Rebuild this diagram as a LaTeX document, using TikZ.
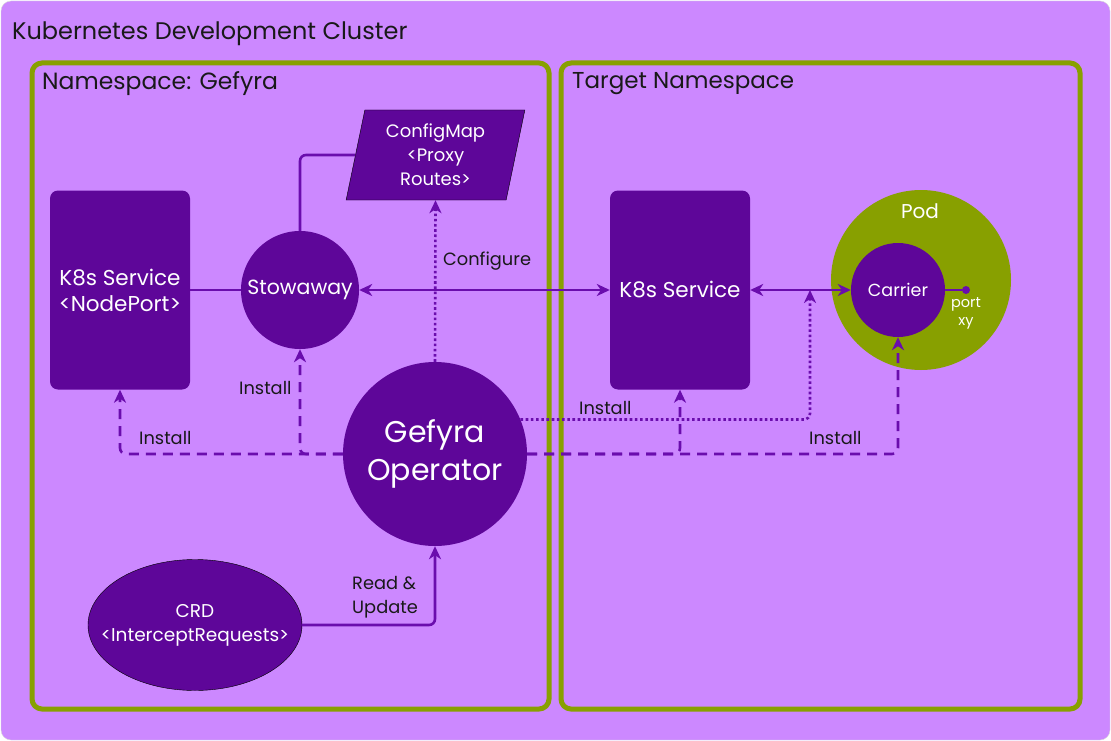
\documentclass[tikz,border=0pt]{standalone}
\usepackage{fontspec}
\setmainfont{Poppins}
\usetikzlibrary{shapes.geometric,arrows.meta}
\definecolor{clusterBg}{HTML}{CC88FF}
\definecolor{deepPurple}{HTML}{5E0699}
\definecolor{wirePurple}{HTML}{6A0DAD}
\definecolor{podGreen}{HTML}{88A000}
\tikzset{
  unit/.style={fill=deepPurple,text=white,align=center,inner sep=0pt},
  svcbox/.style={unit,rounded corners=8pt,minimum width=140pt,minimum height=199pt,font=\fontsize{21.5}{26}\selectfont},
  ball/.style={unit,circle},
  wire/.style={draw=wirePurple,line width=2.6pt},
  tip/.style={-{Stealth[length=13pt,width=12pt,inset=4pt]}},
  install/.style={wire,tip,dash pattern=on 10pt off 7pt,rounded corners=6pt},
  dots/.style={wire,tip,dash pattern=on 2.6pt off 2.6pt,rounded corners=6pt},
  lbl/.style={anchor=west,inner sep=0pt,text=black!90,font=\fontsize{17.8}{24}\selectfont,align=left},
  heading/.style={anchor=west,inner sep=0pt,text=black!90,font=\fontsize{23.5}{28}\selectfont}
}
\begin{document}
\begin{tikzpicture}[x=1pt,y=-1pt]
  \useasboundingbox (0,0) rectangle (1111,741);
  \filldraw[fill=clusterBg,draw=black!15,rounded corners=10pt] (1,1) rectangle (1110,740);
  \draw[podGreen,line width=5pt,rounded corners=10pt] (32,63) rectangle (549,709);
  \draw[podGreen,line width=5pt,rounded corners=10pt] (561,63) rectangle (1080,709);
  \node[heading,font=\fontsize{24}{28}\selectfont] (cluster) at (12,34) {Kubernetes Development Cluster};
  \node[heading] (nsgefyra) at (42,84) {Namespace: Gefyra};
  \node[heading,font=\fontsize{23}{28}\selectfont] (nstarget) at (572,84) {Target Namespace};

  \node[svcbox] (np) at (120,290) {K8s Service\\<NodePort>};
  \node[svcbox] (svc) at (680,290) {K8s Service};
  \node[ball,minimum size=118pt,font=\fontsize{20.5}{24}\selectfont] (sw) at (300,290) {Stowaway};
  \node[ball,minimum size=184pt,font=\fontsize{30}{38}\selectfont] (op) at (435,454) {Gefyra\\Operator};
  \node[unit,draw=black,thin,trapezium,trapezium left angle=78,trapezium right angle=102,
    trapezium stretches=true,minimum width=179pt,minimum height=90pt,
    font=\fontsize{18}{24}\selectfont] (cm) at (435.5,155) {ConfigMap\\<Proxy\\Routes>};
  \node[unit,draw=black,thin,ellipse,inner xsep=-40pt,minimum width=214pt,minimum height=131pt,
    font=\fontsize{18.5}{24}\selectfont] (crd) at (195,625) {CRD\\<InterceptRequests>};

  \node[circle,fill=podGreen,minimum size=180pt] (pod) at (921,280) {};
  \node[text=white,font=\fontsize{20}{24}\selectfont] (podlbl) at (920,211) {Pod};
  \node[ball,minimum size=94pt,font=\fontsize{17.5}{20}\selectfont] (car) at (898,290) {Carrier};
  \node[circle,fill=wirePurple,inner sep=0pt,minimum size=8pt] (port) at (966,290) {};
  \node[text=white,align=center,inner sep=0pt,font=\fontsize{14.5}{18}\selectfont] (portlbl) at (966,313) {port\\xy};
  \coordinate (tap) at (810,290);

  \draw[wire] (np) -- (sw);
  \draw[wire,rounded corners=6pt] (sw.north) |- (cm.west);
  \draw[wire] (car) -- (port);
  \draw[wire,{Stealth[length=13pt,width=12pt,inset=4pt]}-{Stealth[length=13pt,width=12pt,inset=4pt]}] (sw) -- (svc);
  \draw[wire,{Stealth[length=13pt,width=12pt,inset=4pt]}-{Stealth[length=13pt,width=12pt,inset=4pt]}] (svc) -- (car);
  \draw[wire,tip,rounded corners=6pt] (crd.east) -| (op.south);
  \draw[dots] (op.north) -- (cm.south);
  \draw[dots] (op.22) -| (tap);
  \foreach \side/\target in {west/np, west/sw, east/svc, east/car}{
    \draw[install] (op.\side) -| (\target.south);
  }

  \def\drawInstall#1#2#3{\node[lbl] (#1) at (#2,#3) {Install};}
  \drawInstall{instnp}{139}{438}
  \drawInstall{instsw}{239}{388}
  \drawInstall{instsvc}{579}{408}
  \drawInstall{instcar}{809}{438}
  \node[lbl] (cfglbl) at (443,261) {Configure};
  \node[lbl] (rwlbl) at (352,597) {Read \&\\Update};
\end{tikzpicture}
\end{document}
